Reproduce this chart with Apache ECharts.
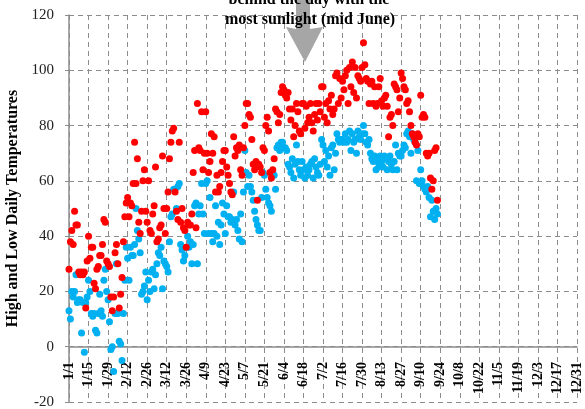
<!DOCTYPE html>
<html>
<head>
<meta charset="utf-8">
<script src="https://cdn.jsdelivr.net/npm/echarts@6/dist/echarts.min.js"></script>
<style>
html, body { margin: 0; padding: 0; background: #fff; }
#chart { width: 585px; height: 409px; }
</style>
</head>
<body>
<div id="chart"></div>
<script>
// tick labels, one every 14 days starting 1/1
var tickLabels = ['1/1','1/15','1/29','2/12','2/26','3/12','3/26','4/9','4/23','5/7','5/21','6/4','6/18',
    '7/2','7/16','7/30','8/13','8/27','9/10','9/24','10/8','10/22','11/5','11/19','12/3','12/17','12/31'];

// daily highs, day 0 = 1/1 (rows of 14 days)
var highs = [
    28,38,42,37,49,44,44,27,26,27,26,27,14,31,
    40,32,36,36,23,21,28,29,33,33,37,46,45,31,
    30,29,18,13,18,34,37,30,14,19,25,38,47,52,
    54,47,52,51,59,74,59,68,45,41,49,60,64,49,
    45,60,42,41,48,51,65,38,39,43,44,69,50,41,
    50,56,68,74,78,79,56,49,46,74,45,50,43,42,
    36,45,44,44,48,63,71,43,88,72,71,85,64,70,
    85,70,63,67,77,70,76,56,62,56,58,63,67,71,
    71,65,62,59,56,55,76,69,72,71,73,64,62,72,
    80,88,88,84,83,75,66,64,67,53,66,65,63,72,
    71,80,83,78,63,61,64,68,86,85,81,84,92,94,
    93,91,90,92,86,82,86,76,80,88,85,78,77,88,
    88,79,87,81,83,88,81,78,84,88,82,88,85,94,
    94,83,88,81,89,86,91,84,86,98,99,88,97,90,
    96,93,98,100,88,101,94,103,92,101,90,98,97,96,
    101,110,102,97,96,88,95,96,88,94,87,88,94,97,
    89,87,90,91,87,76,83,84,80,95,94,93,85,90,
    99,97,94,93,88,89,85,80,77,76,74,73,77,76,
    91,83,84,83,70,69,70,61,57,60,71,72,53
];

// daily lows
var lows = [
    13,10,20,18,20,26,16,17,17,5,16,-2,16,18,
    24,20,12,11,12,6,5,12,19,13,11,24,28,20,
    17,9,-1,0,-9,12,30,12,2,1,-5,12,24,36,
    32,24,36,33,33,37,50,42,39,34,19,20,22,27,
    17,24,20,27,28,21,26,30,34,33,36,21,31,30,
    29,27,38,47,48,57,57,50,58,59,37,35,31,33,
    36,40,36,38,30,37,51,52,30,48,51,59,48,41,
    59,60,41,54,41,38,41,51,40,45,37,44,52,48,
    41,51,47,47,45,46,56,44,46,42,39,48,38,56,
    71,63,58,62,58,56,53,49,46,44,42,42,54,63,
    62,57,54,52,51,49,63,62,57,72,73,71,74,74,
    72,72,71,66,65,63,68,61,66,73,67,64,62,67,
    64,61,65,62,64,66,67,61,68,65,63,62,66,75,
    73,67,71,65,69,62,72,73,64,70,77,75,74,75,
    75,74,77,74,75,78,71,77,74,75,70,78,76,75,
    77,80,77,74,73,75,70,68,67,69,64,67,65,69,
    67,65,69,68,64,67,69,66,64,67,73,64,70,69,
    69,71,73,72,77,78,76,70,77,75,74,60,71,59,
    64,60,58,57,56,58,54,47,53,49,46,50,48
];

var yTitle = 'High and Low Daily Temperatures';
var noteLines = ['behind the day with the', 'most sunlight (mid June)'];

function toPairs(arr) {
    var out = [];
    for (var i = 0; i < arr.length; i++) {
        out.push([i, arr[i]]);
    }
    return out;
}

var chart = echarts.init(document.getElementById('chart'));
var gridColor = '#8c8c8c';
var serif = '"Liberation Serif", "Times New Roman", serif';

chart.setOption({
    animation: false,
    grid: { left: 69, right: 8, top: 15, bottom: 7, containLabel: false, outerBoundsMode: 'none' },
    xAxis: {
        type: 'value',
        min: 0,
        max: 364,
        interval: 14,
        axisLine: { onZero: true, lineStyle: { color: gridColor, width: 1.5 } },
        axisTick: { show: false },
        axisLabel: {
            rotate: 90,
            margin: -40,   // labels sit just under the zero line, like the original
            fontFamily: serif,
            fontWeight: 'bold',
            fontSize: 14,
            color: '#000',
            formatter: function (v) { return tickLabels[Math.round(v / 14)]; }
        },
        splitLine: { show: true, lineStyle: { color: gridColor, type: [5, 4], width: 1 } }
    },
    yAxis: {
        type: 'value',
        min: -20,
        max: 120,
        interval: 20,
        name: yTitle,
        nameLocation: 'middle',
        nameGap: 45,
        nameTextStyle: { fontFamily: serif, fontWeight: 'bold', fontSize: 16, color: '#000' },
        axisLine: { show: true, lineStyle: { color: gridColor, width: 1.5 } },
        axisTick: { show: true, length: 4, lineStyle: { color: gridColor } },
        axisLabel: { margin: 15, fontFamily: serif, fontSize: 15, color: '#222' },
        splitLine: { show: true, lineStyle: { color: gridColor, type: [5, 4], width: 1 } }
    },
    series: [
        {
            name: 'Low',
            type: 'scatter',
            symbolSize: 7,
            itemStyle: { color: '#00B0F0', opacity: 1 },
            data: toPairs(lows)
        },
        {
            name: 'High',
            type: 'scatter',
            symbolSize: 7,
            itemStyle: { color: '#FF0000', opacity: 1 },
            data: toPairs(highs)
        }
    ],
    graphic: [
        {
            type: 'polygon',
            z: 50,
            shape: { points: [[296, -5], [310, -5], [310, 29], [323, 27], [305, 62], [286, 27], [296, 29]] },
            style: { fill: '#A6A6A6' }
        },
        {
            type: 'text',
            z: 60,
            x: 309, y: 0,
            style: { text: noteLines[0], font: 'bold 16px ' + serif, fill: '#000', align: 'center', verticalAlign: 'middle' }
        },
        {
            type: 'text',
            z: 60,
            x: 310, y: 20,
            style: { text: noteLines[1], font: 'bold 16px ' + serif, fill: '#000', align: 'center', verticalAlign: 'middle' }
        }
    ]
});
</script>
</body>
</html>
